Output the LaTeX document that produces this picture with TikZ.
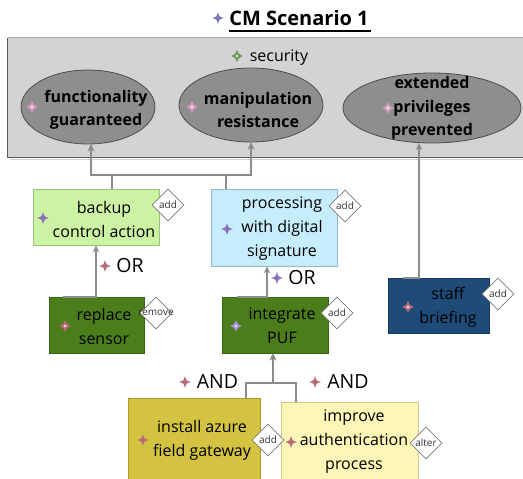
\documentclass[tikz,border=0pt]{standalone}
\usepackage{fontspec}
\setmainfont{Open Sans}
\usetikzlibrary{arrows.meta,shapes.geometric}
\definecolor{connc}{HTML}{8C8C8C}
\definecolor{contfill}{HTML}{D3D3D3}
\definecolor{contdraw}{HTML}{5A5A5A}
\definecolor{conttop}{HTML}{A8A8A8}
\definecolor{ellfill}{HTML}{8E8E8E}
\definecolor{elldraw}{HTML}{4D4D4D}
\definecolor{backupfill}{HTML}{CCF2A4}
\definecolor{backupdraw}{HTML}{9CC27A}
\definecolor{procfill}{HTML}{C6EDFC}
\definecolor{procdraw}{HTML}{8FB9CC}
\definecolor{dgreen}{HTML}{4B7D1A}
\definecolor{dgreendraw}{HTML}{3A6614}
\definecolor{staffc}{HTML}{1F4B79}
\definecolor{staffdraw}{HTML}{163A5E}
\definecolor{installc}{HTML}{D4C241}
\definecolor{installdraw}{HTML}{AA9A2A}
\definecolor{improvec}{HTML}{FDF6B6}
\definecolor{improvedraw}{HTML}{D4C98A}
\definecolor{icpurple}{HTML}{8A70B8}
\definecolor{icrose}{HTML}{B86A78}
\definecolor{icpink}{HTML}{D99CBA}
\definecolor{iclav}{HTML}{A38CD2}
\definecolor{icgreen}{HTML}{6A9A56}
\definecolor{ictitle}{HTML}{7A78B8}
\definecolor{taggray}{HTML}{7A7A7A}
\tikzset{
  pics/spark/.style={code={
    \fill[#1] (0,-6) .. controls (1.3,-1.3) .. (6,0) .. controls (1.3,1.3) .. (0,6)
      .. controls (-1.3,1.3) .. (-6,0) .. controls (-1.3,-1.3) .. (0,-6) -- cycle;}},
  pics/softspark/.style={code={
    \fill[#1] (0,-6) .. controls (1.8,-1.8) .. (6,0) .. controls (1.8,1.8) .. (0,6)
      .. controls (-1.8,1.8) .. (-6,0) .. controls (-1.8,-1.8) .. (0,-6) -- cycle;
    \fill[white,opacity=0.7] (0,0) circle (1.6);}},
  txt/.style={inner sep=0pt, align=center, text=black, font=\fontsize{16}{24}\selectfont},
  btxt/.style={inner sep=0pt, align=center, text=black, font=\bfseries\fontsize{16}{23.5}\selectfont},
  ell/.style={ellipse, draw=elldraw, fill=ellfill, line width=0.8pt, inner sep=0pt},
  box/.style={rectangle, inner sep=0pt, line width=0.8pt},
  tag/.style={diamond, draw=taggray, fill=white, line width=0.6pt, minimum width=32pt, minimum height=32pt, inner sep=0pt},
  tagtxt/.style={inner sep=0pt, text=black!80, font=\fontsize{10}{12}\selectfont},
  gate/.style={inner sep=0pt, text=black, font=\fontsize{19.5}{22}\selectfont},
  conn/.style={draw=connc, line width=2pt, -{Stealth[length=7pt,width=6.5pt]}},
}
\begin{document}
\begin{tikzpicture}[x=1pt,y=-1pt]
\useasboundingbox (0,0) rectangle (523,479);
\fill[white] (0,0) rectangle (523,479);

% title
\pic at (218,18) {spark=ictitle};
\node[inner sep=0pt, font=\bfseries\fontsize{20}{24}\selectfont] (title) at (299,18) {CM Scenario 1};
\draw[black, line width=1.2pt] (229,31) -- (371,31);

% container
\draw[gray!35, line width=1.5pt] (10,159.5) -- (530,159.5);
\node[box, fill=contfill, draw=none, minimum width=522pt, minimum height=119pt] (cont) at (269,97.5) {};
\draw[conttop, line width=0.8pt] (cont.north west) -- (cont.north east);
\draw[contdraw, line width=0.8pt] (cont.north west) -- (cont.south west) -- (cont.south east);
\pic at (237,56) {softspark=icgreen};
\node[txt] (sec) at (279,58) {security};

% goals
\node[ell, minimum width=134pt, minimum height=74pt] (func) at (88,107) {};
\node[ell, minimum width=144pt, minimum height=74pt] (manip) at (251,105) {};
\node[ell, minimum width=178pt, minimum height=70pt] (ext) at (432,108) {};
\pic at (32,107) {softspark=icpink};
\pic at (192,107) {softspark=icpink};
\pic at (388,108) {softspark=icpink};
\node[btxt] (tfunc) at (96,110) {functionality\\guaranteed};
\node[btxt] (tmanip) at (258,110) {manipulation\\resistance};
\node[btxt] (text) at (432,108) {extended\\privileges\\prevented};

% measures
\node[box, fill=backupfill, draw=backupdraw, minimum width=126pt, minimum height=56pt] (backup) at (96,217) {};
\node[box, fill=procfill, draw=procdraw, minimum width=126pt, minimum height=77pt] (proc) at (274,227.5) {};
\node[box, fill=dgreen, draw=dgreendraw, minimum width=95pt, minimum height=56pt] (replace) at (96.5,325) {};
\node[box, fill=dgreen, draw=dgreendraw, minimum width=106pt, minimum height=56pt] (integ) at (275,325) {};
\node[box, fill=staffc, draw=staffdraw, minimum width=101pt, minimum height=55pt] (staff) at (438.5,305.5) {};
\node[box, fill=installc, draw=installdraw, minimum width=132pt, minimum height=87pt] (install) at (194,441.5) {};
\node[box, fill=improvec, draw=improvedraw, minimum width=137pt, minimum height=83pt] (improve) at (349.5,443.5) {};

\pic at (43,218) {spark=icpurple};
\pic at (227,229) {spark=icpurple};
\pic at (65,326) {softspark=icrose};
\pic at (236,326) {softspark=iclav};
\pic at (408,307) {softspark=icrose};
\pic at (143,440) {spark=icrose};
\pic at (291,442) {spark=icrose};

\node[txt] (tbackup) at (104,219) {backup\\control action};
\node[txt] (tproc) at (282,229) {processing\\with digital\\signature};
\node[txt] (treplace) at (104,326) {replace\\sensor};
\node[txt] (tinteg) at (282,326) {integrate\\PUF};
\node[txt] (tstaff) at (448,307) {staff\\briefing};
\node[txt] (tinstall) at (202,440) {install azure\\field gateway};
\node[txt] (timprove) at (354,442) {improve\\authentication\\process};

% tags
\node[tag] (g1) at (168,205) {};
\node[tagtxt] at (g1) {add};
\node[tag] (g2) at (345,206) {};
\node[tagtxt] at (g2) {add};
\node[tag] (g3) at (156,313) {};
\node[tagtxt] at (g3) {remove};
\node[tag] (g4) at (337,313) {};
\node[tagtxt] at (g4) {add};
\node[tag] (g5) at (498,294) {};
\node[tagtxt] at (g5) {add};
\node[tag] (g6) at (268,440) {};
\node[tagtxt] at (g6) {add};
\node[tag] (g7) at (426,443) {};
\node[tagtxt] at (g7) {alter};

% connectors
\coordinate (jA) at (112,175);
\coordinate (jB) at (226,175);
\coordinate (fA) at ([xshift=3pt]func.south);
\draw[conn] (backup.north -| jA) -- (jA) -| (fA);
\draw[conn] (jA) -| (manip.south);
\draw[conn] (proc.north -| jB) -- (jB) -| (manip.south);
\draw[conn] (jB) -| (fA);

\draw[conn] ([xshift=-33.5pt]replace.north) -- (replace.north -| backup.south) -- (backup.south);
\coordinate (pA) at ([xshift=-7pt]proc.south);
\draw[conn] ([xshift=-38pt]integ.north) -- (integ.north -| pA) -- (pA);
\coordinate (eA) at ([xshift=-13pt,yshift=0.4pt]ext.south);
\draw[conn] ([xshift=-35.5pt]staff.north) -- (staff.north -| eA) -- (eA);
\coordinate (iA) at ([xshift=-2pt]integ.south);
\coordinate (jC) at (273,383);
\draw[conn] ([xshift=52pt]install.north) |- (jC) -- (iA);
\draw[conn] ([xshift=-53.5pt]improve.north) |- (jC) -- (iA);

% gate labels
\pic at (105,266) {spark=icrose};
\node[gate] (or1) at (130,266) {OR};
\pic at (277,278) {spark=icpurple};
\node[gate] (or2) at (302,278) {OR};
\pic at (185,382) {spark=icrose};
\node[gate] (and1) at (217.5,382) {AND};
\pic at (315,382) {spark=icrose};
\node[gate] (and2) at (348,382) {AND};
\end{tikzpicture}
\end{document}
